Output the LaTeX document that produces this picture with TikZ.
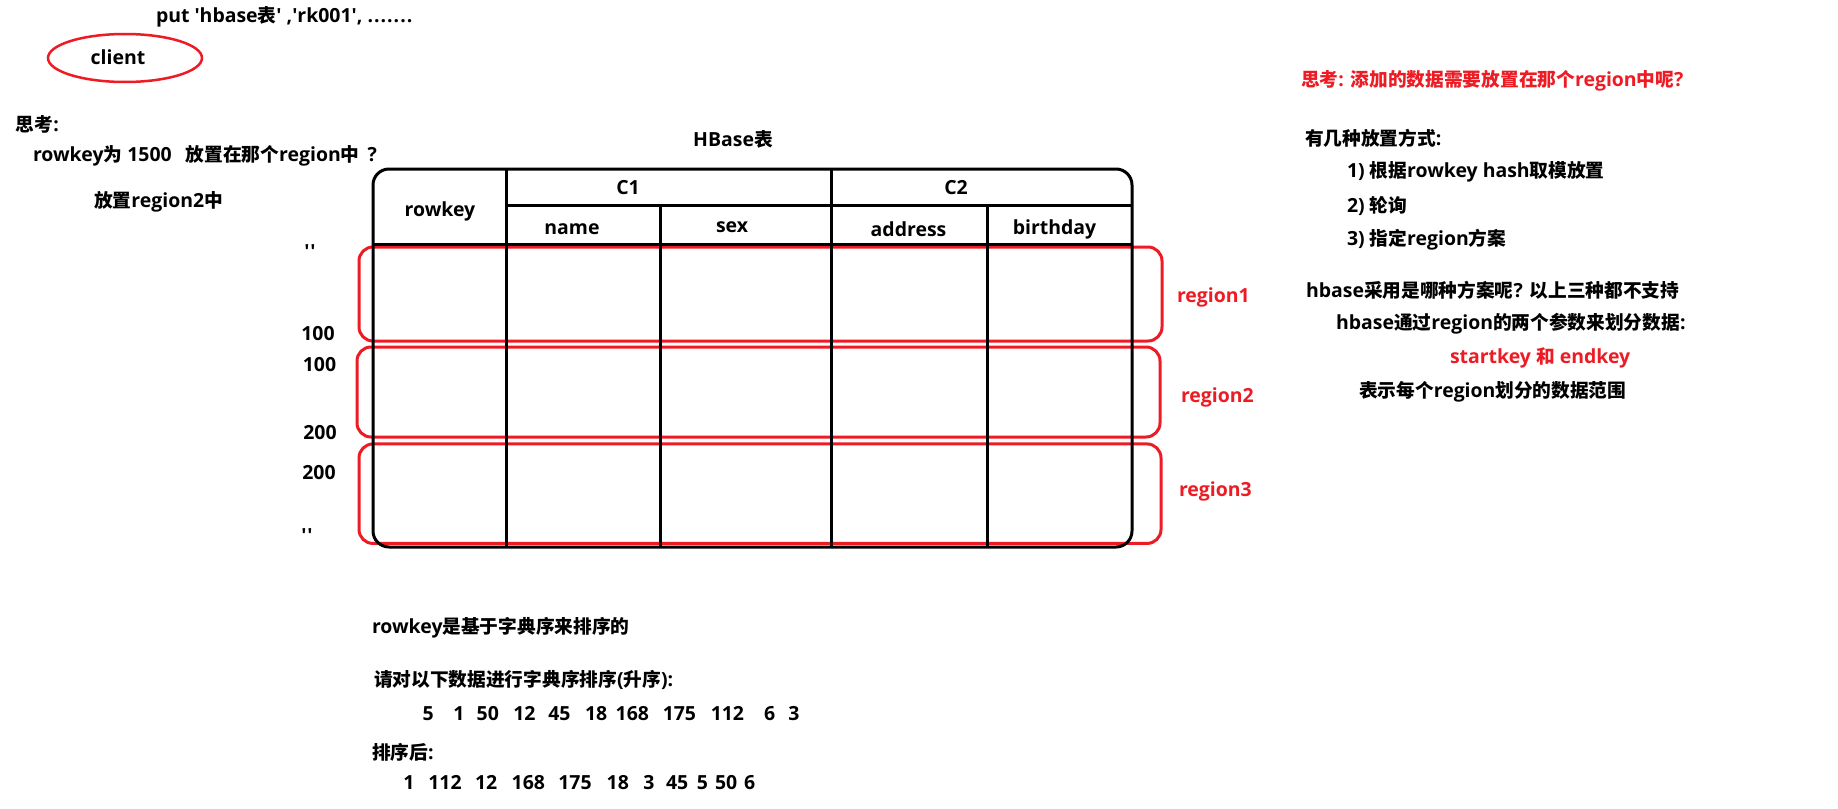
\documentclass[tikz,border=0pt]{standalone}
\usepackage{fontspec}
\setmainfont{Open Sans}[Scale=1.04]
\newfontfamily\cjkfont{Noto Sans CJK SC}
\newcommand\zh[1]{{\cjkfont #1}}
\newcommand\q{\textquotesingle}
\newcommand\numat[2]{\rlap{\hspace*{#1pt}#2}}
\usetikzlibrary{shapes.geometric}
\definecolor{pred}{RGB}{237,28,36}
\begin{document}
\begin{tikzpicture}[x=1pt,y=-1pt,
  every node/.style={inner sep=0pt, outer sep=0pt, font=\fontsize{18.7}{22}\selectfont\bfseries},
  txt/.style={anchor=west},
  redtxt/.style={anchor=west, text=pred},
  regionbox/.style={draw=pred, line width=3pt, rounded corners=14pt, rectangle},
  tblline/.style={line width=3pt, black},
]
\useasboundingbox[fill=white] (0,0) rectangle (1838,808);

% client
\node[txt] (put) at (156,17) {put \q hbase\zh{表}\q{} ,\q rk001\q, .\kern1pt.\kern1pt.\kern1pt.\kern1pt.\kern1pt.\kern1pt.};
\node[draw=pred, line width=2.5pt, ellipse, minimum width=154pt, minimum height=48pt] (client) at (125,58) {};
\node (clienttxt) at (118,57) {client};

% left questions
\node[txt] (think) at (16,124) {\zh{思考}:};
\node[txt] (q1) at (33,156) {rowkey\zh{为} 1500\hspace{14pt}\zh{放置在那个}region\zh{中}\hspace{8pt}?};
\node[txt] (a1) at (94,202) {\zh{放置}region2\zh{中}};

% region boxes
\node[regionbox, minimum width=803pt, minimum height=94pt] (reg1) at (760.5,294) {};
\node[regionbox, minimum width=803pt, minimum height=90pt] (reg2) at (758.5,392) {};
\node[regionbox, minimum width=802pt, minimum height=99.5pt] (reg3) at (760,493.7) {};

% table
\node (title) at (733,139) {HBase\zh{表}};
\node[draw, line width=3pt, rounded corners=16pt, rectangle, minimum width=759pt, minimum height=378pt] (tbl) at (752.5,358) {};
\draw[tblline] (506.5,169) -- (506.5,547);
\draw[tblline] (831,169) -- (831,547);
\draw[tblline] (660.5,205) -- (660.5,547);
\draw[tblline] (987,205) -- (987,547);
\draw[tblline] (506.5,205) -- (1132,205);
\draw[tblline] (373,244) -- (1132,244);

\node (hrowkey) at (440,211) {rowkey};
\node (hc1) at (628,188) {C1};
\node (hc2) at (956,188) {C2};
\node (hname) at (572,229) {name};
\node (hsex) at (732,227) {sex};
\node (haddr) at (908.5,229) {address};
\node (hbirth) at (1054.5,229) {birthday};

% row keys
\node (k0) at (310,252) {\q\kern1pt\q};
\node (k1) at (318,334) {100};
\node (k2) at (319.5,365) {100};
\node (k3) at (320,433) {200};
\node (k4) at (319,473) {200};
\node (k5) at (307,536) {\q\kern1pt\q};

% region labels
\node[redtxt] (r1) at (1177,297) {region1};
\node[redtxt] (r2) at (1181,397) {region2};
\node[redtxt] (r3) at (1179,491) {region3};

% right panel
\node[redtxt] (rt) at (1301,81) {\zh{思考}: \zh{添加的数据需要放置在那个}region\zh{中呢}?};
\node[txt] (ways) at (1305,138) {\zh{有几种放置方式}:};
\node[txt] (w1) at (1347,172) {1) \zh{根据}rowkey hash\zh{取模放置}};
\node[txt] (w2) at (1347,206) {2) \zh{轮询}};
\node[txt] (w3) at (1347,240) {3) \zh{指定}region\zh{方案}};
\node[txt] (hb1) at (1306,290) {hbase\zh{采用是哪种方案呢}? \zh{以上三种都不支持}};
\node[txt] (hb2) at (1336,324) {hbase\zh{通过}region\zh{的两个参数来划分数据}:};
\node[redtxt] (hb3) at (1450,358) {startkey \zh{和} endkey};
\node[txt] (hb4) at (1359,392) {\zh{表示每个}region\zh{划分的数据范围}};

% bottom
\node[txt] (s1) at (372,628) {rowkey\zh{是基于字典序来排序的}};
\node[txt] (s2) at (374,680) {\zh{请对以下数据进行字典序排序}(\zh{升序}):};
\node[txt] (s3) at (422.7,714) {\numat{0}{5}\numat{30.6}{1}\numat{54}{50}\numat{90.6}{12}\numat{125.6}{45}\numat{162.3}{18}\numat{193}{168}\numat{240}{175}\numat{288}{112}\numat{341.3}{6}\numat{365.6}{3}\phantom{0}};
\node[txt] (s4) at (372,752) {\zh{排序后}:};
\node[txt] (s5) at (403.3,783) {\numat{0}{1}\numat{25}{112}\numat{71.7}{12}\numat{108.4}{168}\numat{155}{175}\numat{203.4}{18}\numat{240}{3}\numat{262.7}{45}\numat{293.4}{5}\numat{311.7}{50}\numat{340.7}{6}\phantom{0}};
\end{tikzpicture}
\end{document}
